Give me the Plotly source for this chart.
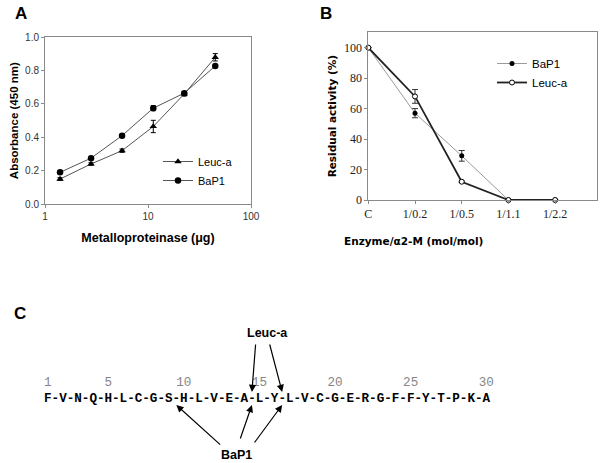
import plotly.graph_objects as go

W, H = 603, 463

# ---------------- Data ----------------
# Panel A
a_dose = [1.4, 2.8, 5.6, 11.25, 22.5, 45]
a_leuc = [0.15, 0.24, 0.32, 0.465, 0.66, 0.88]
a_leuc_err = [0.008, 0.008, 0.01, 0.037, 0.012, 0.022]
a_bap1 = [0.19, 0.275, 0.41, 0.575, 0.665, 0.828]
a_bap1_err = [0.006, 0.006, 0.006, 0.015, 0.01, 0.006]

# Panel B
b_cats = ["C", "1/0.2", "1/0.5", "1/1.1", "1/2.2"]
b_bap1 = [100, 57, 29, 0, 0]
b_bap1_err = [0, 3, 3.5, 0, 0]
b_leuc = [100, 68, 12, 0, 0]
b_leuc_err = [0, 4.5, 0.5, 0, 0]

# Panel C
sequence = list("FVNQHLCGSHLVEALYLVCGERGFFYTPKA")
residue_labels = [1, 5, 10, 15, 20, 25, 30]
leuc_sites = [14.5, 16.5]
bap1_sites = [9.5, 14.5, 16.5]

def px(x):
    return x / W

def py(y):
    return 1 - y / H

fig = go.Figure()

# ---- Panel A traces ----
line_a = "#555555"
fig.add_trace(go.Scatter(
    x=a_dose, y=a_leuc, name="Leuc-a", mode="lines+markers",
    line=dict(color=line_a, width=1),
    marker=dict(symbol="triangle-up", size=6.5, color="black"),
    error_y=dict(type="data", array=a_leuc_err, color="black", thickness=1, width=2.5),
    xaxis="x", yaxis="y", legend="legend", cliponaxis=False))
fig.add_trace(go.Scatter(
    x=a_dose, y=a_bap1, name="BaP1", mode="lines+markers",
    line=dict(color=line_a, width=1),
    marker=dict(symbol="circle", size=6.5, color="black"),
    error_y=dict(type="data", array=a_bap1_err, color="black", thickness=1, width=2.5),
    xaxis="x", yaxis="y", legend="legend", cliponaxis=False))

# ---- Panel B traces ----
b_x = list(range(len(b_cats)))
fig.add_trace(go.Scatter(
    x=b_x, y=b_bap1, name="BaP1", mode="lines+markers",
    line=dict(color="#9a9a9a", width=1),
    marker=dict(symbol="circle", size=5, color="black"),
    error_y=dict(type="data", array=b_bap1_err, color="#333333", thickness=1, width=3),
    xaxis="x2", yaxis="y2", legend="legend2", cliponaxis=False))
fig.add_trace(go.Scatter(
    x=b_x, y=b_leuc, name="Leuc-a", mode="lines+markers",
    line=dict(color="#222222", width=1.8),
    marker=dict(symbol="circle", size=5, color="white", line=dict(color="black", width=1)),
    error_y=dict(type="data", array=b_leuc_err, color="#333333", thickness=1, width=3),
    xaxis="x2", yaxis="y2", legend="legend2", cliponaxis=False))

# ---- Panel C: sequence as text on a hidden axis (x in residue units) ----
res_x = list(range(1, len(sequence) + 1))
dash_x = [i + 0.5 for i in res_x[:-1]]
fig.add_trace(go.Scatter(
    x=res_x + dash_x, y=[399] * (len(res_x) + len(dash_x)),
    text=sequence + ["-"] * len(dash_x), mode="text",
    textfont=dict(family="Liberation Mono", size=12.6, color="black", weight="bold"),
    xaxis="x3", yaxis="y3", showlegend=False, hoverinfo="skip", cliponaxis=False))
fig.add_trace(go.Scatter(
    x=residue_labels, y=[383] * len(residue_labels),
    text=[str(r) for r in residue_labels], mode="text",
    textfont=dict(family="Liberation Mono", size=12.6, color="#858585"),
    xaxis="x3", yaxis="y3", showlegend=False, hoverinfo="skip", cliponaxis=False))

# residue-unit mapping: residue 1 at pixel 47.8, 15.12 px per residue
r0, step = 47.8, 15.12
x3_range = [1 - r0 / step, 1 + (W - r0) / step]

annotations = []
# panel letters
for lbl, x, y in [("A", 13, 13), ("B", 318, 13), ("C", 12, 313)]:
    annotations.append(dict(text=lbl, x=px(x), y=py(y), xref="paper", yref="paper",
                            showarrow=False, xanchor="left", yanchor="middle",
                            font=dict(family="Liberation Sans", size=17, color="black", weight="bold")))

# panel C labels
annotations.append(dict(text="Leuc-a", x=15.5, y=333, xref="x3", yref="y3", showarrow=False,
                        font=dict(family="Liberation Sans", size=12.5, color="black", weight="bold")))
annotations.append(dict(text="BaP1", x=13.5, y=455, xref="x3", yref="y3", showarrow=False,
                        font=dict(family="Liberation Sans", size=12.5, color="black", weight="bold")))
leuc_tails = [14.75, 15.65]
for site, tail in zip(leuc_sites, leuc_tails):
    annotations.append(dict(x=site, y=392, ax=tail, ay=343, xref="x3", yref="y3",
                            axref="x3", ayref="y3", text="", showarrow=True,
                            arrowhead=2, arrowsize=1.2, arrowwidth=1.2, arrowcolor="black"))
bap1_tails = [(12.5, 446), (13.7, 440), (14.6, 444)]
for site, (tx, ty) in zip(bap1_sites, bap1_tails):
    annotations.append(dict(x=site, y=405, ax=tx, ay=ty, xref="x3", yref="y3",
                            axref="x3", ayref="y3", text="", showarrow=True,
                            arrowhead=2, arrowsize=1.2, arrowwidth=1.2, arrowcolor="black"))

# Panel B x title (custom font)
annotations.append(dict(text="Enzyme/α2-M (mol/mol)", x=px(485), y=py(241), xref="paper", yref="paper",
                        showarrow=False, font=dict(family="DejaVu Sans", size=10.5, color="black", weight="bold")))

axis_line = "#8a8a8a"
fig.update_layout(
    width=W, height=H, margin=dict(l=0, r=0, t=0, b=0, autoexpand=False),
    paper_bgcolor="white", plot_bgcolor="rgba(0,0,0,0)",
    showlegend=True,
    xaxis=dict(domain=[px(45), px(251)], type="log", range=[0, 2], automargin=False,
               tickvals=[1, 10, 100], ticktext=["1", "10", "100"],
               showline=True, linecolor=axis_line, linewidth=1, mirror=True,
               ticks="outside", ticklen=3, tickcolor=axis_line, showgrid=False, zeroline=False,
               tickfont=dict(family="Liberation Sans", size=10, color="#333333"),
               title=dict(text="Metalloproteinase (μg)", standoff=12,
                          font=dict(family="Liberation Sans", size=12.5, color="black", weight="bold")),
               anchor="y"),
    yaxis=dict(domain=[py(204), py(37.3)], range=[0, 1.0], tickvals=[0, 0.2, 0.4, 0.6, 0.8, 1.0],
               tickformat=".1f", automargin=False,
               showline=True, linecolor=axis_line, linewidth=1, mirror=True,
               ticks="outside", ticklen=3, tickcolor=axis_line, showgrid=False, zeroline=False,
               tickfont=dict(family="Liberation Sans", size=10, color="#333333"),
               title=dict(text="Absorbance (450 nm)", standoff=4,
                          font=dict(family="Liberation Sans", size=11.5, color="black", weight="bold")),
               anchor="x"),
    xaxis2=dict(domain=[px(368.3), px(596.7)], range=[0, 4.89], automargin=False,
                tickvals=b_x, ticktext=b_cats,
                showline=True, linecolor=axis_line, linewidth=1, mirror=True,
                ticks="outside", ticklen=3, tickcolor=axis_line, showgrid=False, zeroline=False,
                tickfont=dict(family="Liberation Serif", size=12, color="#222222"),
                anchor="y2"),
    yaxis2=dict(domain=[py(200), py(32.3)], range=[0, 110.1], tickvals=[0, 20, 40, 60, 80, 100],
                automargin=False,
                showline=True, linecolor=axis_line, linewidth=1, mirror=True,
                ticks="outside", ticklen=3, tickcolor=axis_line, showgrid=False, zeroline=False,
                tickfont=dict(family="Liberation Serif", size=12, color="#222222"),
                title=dict(text="Residual activity (%)", standoff=5,
                           font=dict(family="DejaVu Sans", size=10.5, color="black", weight="bold")),
                anchor="x2"),
    xaxis3=dict(domain=[0, 1], range=x3_range, visible=False, fixedrange=True, anchor="y3",
                automargin=False),
    yaxis3=dict(domain=[0, py(290)], range=[H, 290], visible=False, fixedrange=True, anchor="x3",
                automargin=False),
    legend=dict(x=px(158), y=py(147), xanchor="left", yanchor="top",
                bgcolor="rgba(0,0,0,0)", font=dict(family="Liberation Sans", size=11, color="black"),
                itemwidth=30, tracegroupgap=0),
    legend2=dict(x=px(492), y=py(49), xanchor="left", yanchor="top",
                 bgcolor="rgba(0,0,0,0)", font=dict(family="Liberation Sans", size=11.5, color="black"),
                 itemwidth=30, tracegroupgap=0),
    annotations=annotations,
)

fig.write_html("out.html", config={"displayModeBar": False},
               post_script="document.body.style.margin='0';document.body.style.padding='0';")
